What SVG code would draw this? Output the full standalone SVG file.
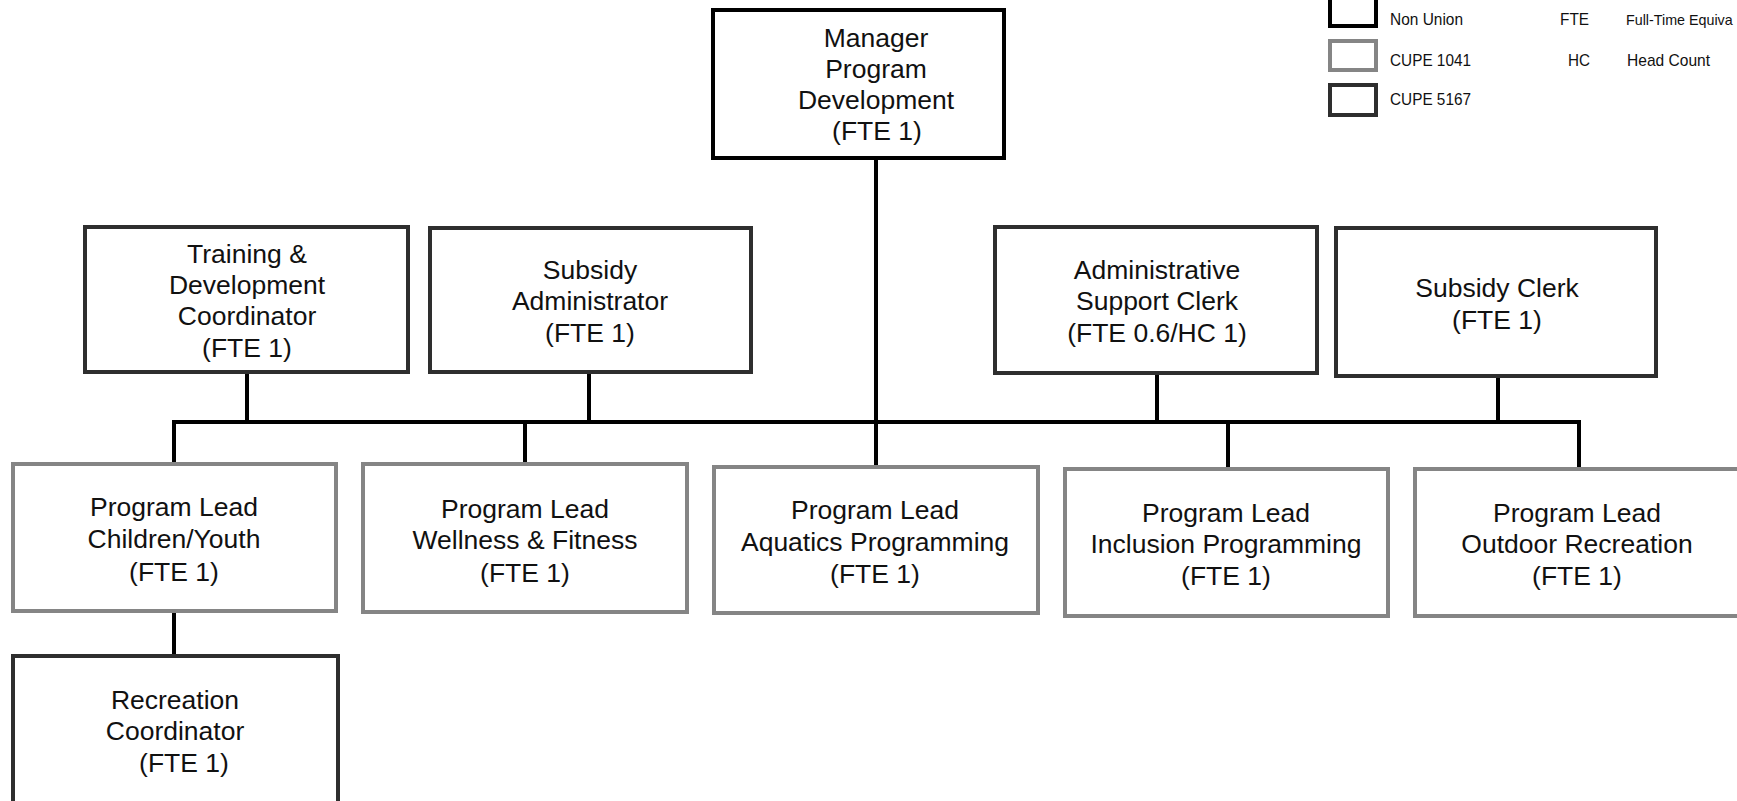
<svg xmlns="http://www.w3.org/2000/svg" width="1737" height="801" viewBox="0 0 1737 801">
<style>
  .nu { fill: #ffffff; stroke: #000000; stroke-width: 4; }
  .c1041 { fill: #ffffff; stroke: #858585; stroke-width: 4; }
  .c5167 { fill: #ffffff; stroke: #2e2e2e; stroke-width: 4; }
  .t { font-family: "Liberation Sans", Arial, sans-serif; font-size: 26.5px; fill: #111111; text-anchor: middle; }
  .lg { font-family: "Liberation Sans", Arial, sans-serif; font-size: 17px; fill: #111111; }
  .conn { stroke: #000000; stroke-width: 4; fill: none; stroke-linecap: square; }
</style>

<g id="connectors">
  <line class="conn" x1="876" y1="160" x2="876" y2="465"/>
  <line class="conn" x1="174" y1="422" x2="1579" y2="422"/>
  <line class="conn" x1="247" y1="374" x2="247" y2="422"/>
  <line class="conn" x1="589" y1="374" x2="589" y2="422"/>
  <line class="conn" x1="1157" y1="374" x2="1157" y2="422"/>
  <line class="conn" x1="1498" y1="378" x2="1498" y2="422"/>
  <line class="conn" x1="174" y1="422" x2="174" y2="462"/>
  <line class="conn" x1="525" y1="422" x2="525" y2="462"/>
  <line class="conn" x1="1228" y1="422" x2="1228" y2="467"/>
  <line class="conn" x1="1579" y1="422" x2="1579" y2="467"/>
  <line class="conn" x1="174" y1="613" x2="174" y2="654"/>
</g>

<g id="legend">
  <rect class="nu" x="1330" y="-3" width="46" height="29"/>
  <rect class="c1041" x="1330" y="41" width="46" height="29"/>
  <rect class="c5167" x="1330" y="85" width="46" height="30"/>
  <text class="lg" x="1390" y="25" textLength="73" lengthAdjust="spacingAndGlyphs">Non Union</text>
  <text class="lg" x="1390" y="66" textLength="81" lengthAdjust="spacingAndGlyphs">CUPE 1041</text>
  <text class="lg" x="1390" y="105" textLength="81" lengthAdjust="spacingAndGlyphs">CUPE 5167</text>
  <text class="lg" x="1560" y="25" textLength="29" lengthAdjust="spacingAndGlyphs">FTE</text>
  <text class="lg" x="1568" y="66" textLength="22" lengthAdjust="spacingAndGlyphs">HC</text>
  <text class="lg" x="1626" y="25" style="font-size:14.3px">Full-Time Equiva</text>
  <text class="lg" x="1627" y="66" textLength="83" lengthAdjust="spacingAndGlyphs">Head Count</text>
</g>

<g id="manager">
  <rect class="nu" x="713" y="10" width="291" height="148"/>
  <text class="t" x="876" y="47">Manager</text>
  <text class="t" x="876" y="78">Program</text>
  <text class="t" x="876" y="109">Development</text>
  <text class="t" x="877" y="140">(FTE 1)</text>
</g>

<g id="training">
  <rect class="c5167" x="85" y="227" width="323" height="145"/>
  <text class="t" x="247" y="263">Training &amp;</text>
  <text class="t" x="247" y="294">Development</text>
  <text class="t" x="247" y="325">Coordinator</text>
  <text class="t" x="247" y="357">(FTE 1)</text>
</g>

<g id="subsidy-administrator">
  <rect class="c5167" x="430" y="228" width="321" height="144"/>
  <text class="t" x="590" y="279">Subsidy</text>
  <text class="t" x="590" y="310">Administrator</text>
  <text class="t" x="590" y="342">(FTE 1)</text>
</g>

<g id="admin-support-clerk">
  <rect class="c5167" x="995" y="227" width="322" height="146"/>
  <text class="t" x="1157" y="279">Administrative</text>
  <text class="t" x="1157" y="310">Support Clerk</text>
  <text class="t" x="1157" y="342">(FTE 0.6/HC 1)</text>
</g>

<g id="subsidy-clerk">
  <rect class="c5167" x="1336" y="228" width="320" height="148"/>
  <text class="t" x="1497" y="297">Subsidy Clerk</text>
  <text class="t" x="1497" y="329">(FTE 1)</text>
</g>

<g id="lead-children-youth">
  <rect class="c1041" x="13" y="464" width="323" height="147"/>
  <text class="t" x="174" y="516">Program Lead</text>
  <text class="t" x="174" y="548">Children/Youth</text>
  <text class="t" x="174" y="581">(FTE 1)</text>
</g>

<g id="lead-wellness-fitness">
  <rect class="c1041" x="363" y="464" width="324" height="148"/>
  <text class="t" x="525" y="518">Program Lead</text>
  <text class="t" x="525" y="549">Wellness &amp; Fitness</text>
  <text class="t" x="525" y="582">(FTE 1)</text>
</g>

<g id="lead-aquatics">
  <rect class="c1041" x="714" y="467" width="324" height="146"/>
  <text class="t" x="875" y="519">Program Lead</text>
  <text class="t" x="875" y="551">Aquatics Programming</text>
  <text class="t" x="875" y="583">(FTE 1)</text>
</g>

<g id="lead-inclusion">
  <rect class="c1041" x="1065" y="469" width="323" height="147"/>
  <text class="t" x="1226" y="522">Program Lead</text>
  <text class="t" x="1226" y="553">Inclusion Programming</text>
  <text class="t" x="1226" y="585">(FTE 1)</text>
</g>

<g id="lead-outdoor">
  <rect class="c1041" x="1415" y="469" width="324" height="147"/>
  <text class="t" x="1577" y="522">Program Lead</text>
  <text class="t" x="1577" y="553">Outdoor Recreation</text>
  <text class="t" x="1577" y="585">(FTE 1)</text>
</g>

<g id="recreation-coordinator">
  <rect class="c5167" x="13" y="656" width="325" height="170"/>
  <text class="t" x="175" y="709">Recreation</text>
  <text class="t" x="175" y="740">Coordinator</text>
  <text class="t" x="184" y="772">(FTE 1)</text>
</g>
</svg>
